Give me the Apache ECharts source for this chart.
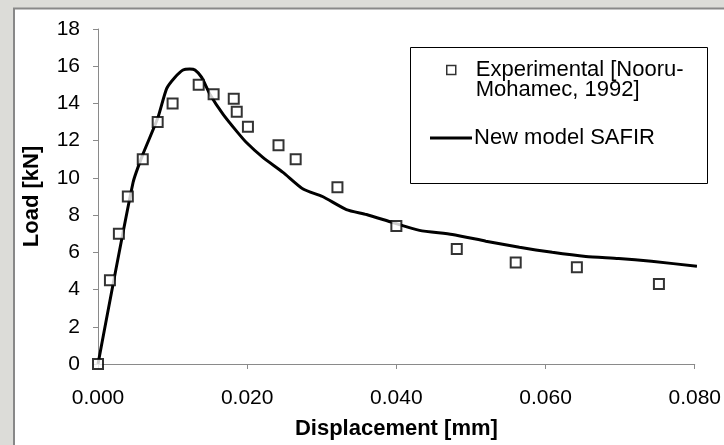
<!DOCTYPE html>
<html>
<head>
<meta charset="utf-8">
<script src="https://cdn.jsdelivr.net/npm/echarts@6/dist/echarts.min.js"></script>
<style>
  html, body { margin: 0; padding: 0; background: #dcdcd8; }
  #chart { width: 724px; height: 445px; }
</style>
</head>
<body>
<div id="chart"></div>
<script>
// experimental points (Nooru-Mohamed, 1992)
const expX = [0, 0.0016, 0.0028, 0.0040, 0.0060, 0.0080, 0.0100, 0.0135, 0.0155, 0.0182, 0.0186, 0.0201, 0.0242, 0.0265, 0.0321, 0.0400, 0.0481, 0.0560, 0.0642, 0.0752]
const expY = [0, 4.5, 7.0, 9.0, 11.0, 13.0, 14.0, 15.0, 14.5, 14.25, 13.55, 12.75, 11.75, 11.0, 9.5, 7.42, 6.18, 5.46, 5.2, 4.3]

// SAFIR model curve
const safirX = [0, 0.0047, 0.0060, 0.0080, 0.0092, 0.0103, 0.0114, 0.0123, 0.0130, 0.0139, 0.0150, 0.0168, 0.0186, 0.0199, 0.0221, 0.0248, 0.0275, 0.0301, 0.0333, 0.0360, 0.0395, 0.0431, 0.0475, 0.0520, 0.0565, 0.0609, 0.0654, 0.0698, 0.0742, 0.0803]
const safirY = [0, 9.75, 11.25, 13.2, 14.8, 15.4, 15.8, 15.85, 15.8, 15.4, 14.5, 13.4, 12.5, 11.9, 11.1, 10.3, 9.4, 9.0, 8.3, 8.03, 7.6, 7.18, 6.96, 6.6, 6.27, 6.0, 5.78, 5.67, 5.52, 5.25]

const xTickLabels = ['0.000', '0.020', '0.040', '0.060', '0.080']
const yTickLabels = ['0', '2', '4', '6', '8', '10', '12', '14', '16', '18']

const expName = 'Experimental [Nooru-\nMohamec, 1992]'
const safirName = 'New model SAFIR'

const font = "'Liberation Sans', Arial, sans-serif"
const axisGrey = '#8a8a8a'

const chart = echarts.init(document.getElementById('chart'))

chart.setOption({
  animation: false,
  backgroundColor: '#dcdcd8',
  textStyle: { fontFamily: font, color: '#000' },
  graphic: [
    {
      type: 'rect',
      z: -10,
      shape: { x: 14, y: 8.5, width: 720, height: 450 },
      style: { fill: '#fff', stroke: '#888', lineWidth: 2 }
    },
    {
      type: 'rect',
      z: -5,
      shape: { x: 410.5, y: 47.5, width: 297, height: 136 },
      style: { fill: '#fff', stroke: '#000', lineWidth: 1 }
    }
  ],
  legend: [
    {
      left: 446,
      top: 59,
      padding: 0,
      itemWidth: 9,
      itemHeight: 29,
      // square sits at the top of the icon box so it lines up with the first text line
      data: [{ name: expName, icon: 'path://M0,0H9V9H0ZM0,29L0,29' }],
      itemStyle: { color: '#fff', borderColor: '#000', borderWidth: 1.5 },
      textStyle: {
        fontSize: 22,
        lineHeight: 20,
        fontFamily: font,
        color: '#000',
        padding: [0, 0, 0, 15]
      }
    },
    {
      left: 430,
      top: 127,
      padding: 0,
      itemWidth: 42,
      itemHeight: 3,
      data: [{ name: safirName, icon: 'rect' }],
      itemStyle: { color: '#000' },
      textStyle: {
        fontSize: 22,
        fontFamily: font,
        color: '#000',
        padding: [0, 0, 0, -3]
      }
    }
  ],
  grid: { left: 98, right: 28, top: 29, bottom: 80 },
  xAxis: {
    type: 'value',
    min: 0,
    max: 0.08,
    interval: 0.02,
    name: 'Displacement [mm]',
    nameLocation: 'middle',
    nameGap: 54,
    nameTextStyle: { fontSize: 22, fontWeight: 'bold', fontFamily: font, color: '#000' },
    splitLine: { show: false },
    axisLine: { lineStyle: { color: axisGrey, width: 1 } },
    axisTick: { length: 5, lineStyle: { color: axisGrey } },
    axisLabel: {
      margin: 24,
      fontSize: 21,
      color: '#000',
      formatter: (v) => xTickLabels[Math.round(v / 0.02)]
    }
  },
  yAxis: {
    type: 'value',
    min: 0,
    max: 18,
    interval: 2,
    name: 'Load [kN]',
    nameLocation: 'middle',
    nameGap: 55,
    nameTextStyle: { fontSize: 22, fontWeight: 'bold', fontFamily: font, color: '#000' },
    splitLine: { show: false },
    axisLine: { show: true, lineStyle: { color: axisGrey, width: 1 } },
    axisTick: { show: true, length: 5, lineStyle: { color: axisGrey } },
    axisLabel: {
      margin: 18,
      fontSize: 21,
      color: '#000',
      formatter: (v) => yTickLabels[Math.round(v / 2)]
    }
  },
  series: [
    {
      name: safirName,
      type: 'line',
      symbol: 'none',
      smooth: 0.2,
      lineStyle: { color: '#000', width: 3 },
      itemStyle: { color: '#000' },
      data: safirX.map((x, i) => [x, safirY[i]]),
      z: 2
    },
    {
      name: expName,
      type: 'scatter',
      symbol: 'rect',
      symbolSize: 10,
      itemStyle: { color: '#fff', borderColor: '#000', borderWidth: 2 },
      data: expX.map((x, i) => [x, expY[i]]),
      z: 3
    }
  ]
})
</script>
</body>
</html>
